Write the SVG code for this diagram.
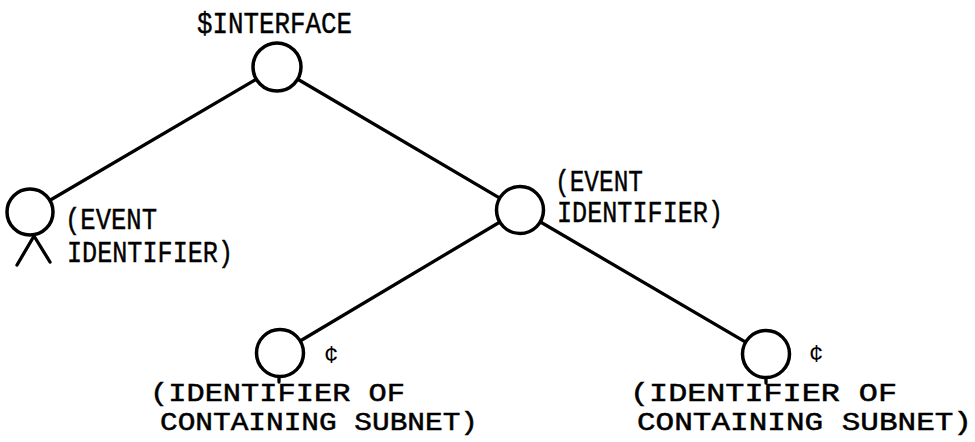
<svg xmlns="http://www.w3.org/2000/svg" width="975" height="442" viewBox="0 0 975 442">
<style>
.n{fill:#fff;stroke:#000;stroke-width:3.5}
.e{stroke:#000;stroke-width:3.3;fill:none;stroke-linecap:round}
.t{font-family:"Liberation Mono","DejaVu Sans Mono",monospace;font-size:30px;fill:#000;stroke:#000;stroke-width:0.4}
.b{font-family:"Liberation Mono","DejaVu Sans Mono",monospace;font-size:26px;fill:#000;stroke:#000;stroke-width:0.5}
.c{font-family:"Liberation Mono","DejaVu Sans Mono",monospace;font-size:24px;fill:#000}
</style>
<rect width="975" height="442" fill="#fff"/>
<g id="connectors">
<line class="e" x1="277" y1="67" x2="30" y2="212"/>
<line class="e" x1="277" y1="67" x2="520" y2="210"/>
<line class="e" x1="520" y1="210" x2="280" y2="353"/>
<line class="e" x1="520" y1="210" x2="766" y2="354"/>
</g>
<g id="root">
<circle class="n" cx="277" cy="67" r="24"/>
<text class="t" x="197" y="33" textLength="155" lengthAdjust="spacingAndGlyphs">$INTERFACE</text>
</g>
<g id="left">
<circle class="n" cx="30" cy="212" r="23"/>
<line class="e" x1="34" y1="236" x2="17" y2="265"/>
<line class="e" x1="34" y1="236" x2="50" y2="262"/>
<text class="t" x="65" y="229" textLength="92" lengthAdjust="spacingAndGlyphs">(EVENT</text>
<text class="t" x="67" y="262" textLength="166" lengthAdjust="spacingAndGlyphs">IDENTIFIER)</text>
</g>
<g id="middle">
<circle class="n" cx="520" cy="210" r="23.5"/>
<text class="t" x="555" y="191" textLength="88" lengthAdjust="spacingAndGlyphs">(EVENT</text>
<text class="t" x="557" y="222" textLength="166" lengthAdjust="spacingAndGlyphs">IDENTIFIER)</text>
</g>
<g id="bottom-left">
<circle class="n" cx="280" cy="353" r="23.5"/>
<line class="e" x1="279" y1="377" x2="279" y2="382"/>
<text class="c" x="324" y="362">¢</text>
<text class="b" x="150" y="401" textLength="255" lengthAdjust="spacingAndGlyphs">(IDENTIFIER OF</text>
<text class="b" x="160" y="430" textLength="318" lengthAdjust="spacingAndGlyphs">CONTAINING SUBNET)</text>
</g>
<g id="bottom-right">
<circle class="n" cx="766" cy="354" r="23.5"/>
<line class="e" x1="766" y1="378" x2="766" y2="383"/>
<text class="c" x="809" y="361">¢</text>
<text class="b" x="630" y="401" textLength="267" lengthAdjust="spacingAndGlyphs">(IDENTIFIER OF</text>
<text class="b" x="637" y="430" textLength="335" lengthAdjust="spacingAndGlyphs">CONTAINING SUBNET)</text>
</g>
</svg>
